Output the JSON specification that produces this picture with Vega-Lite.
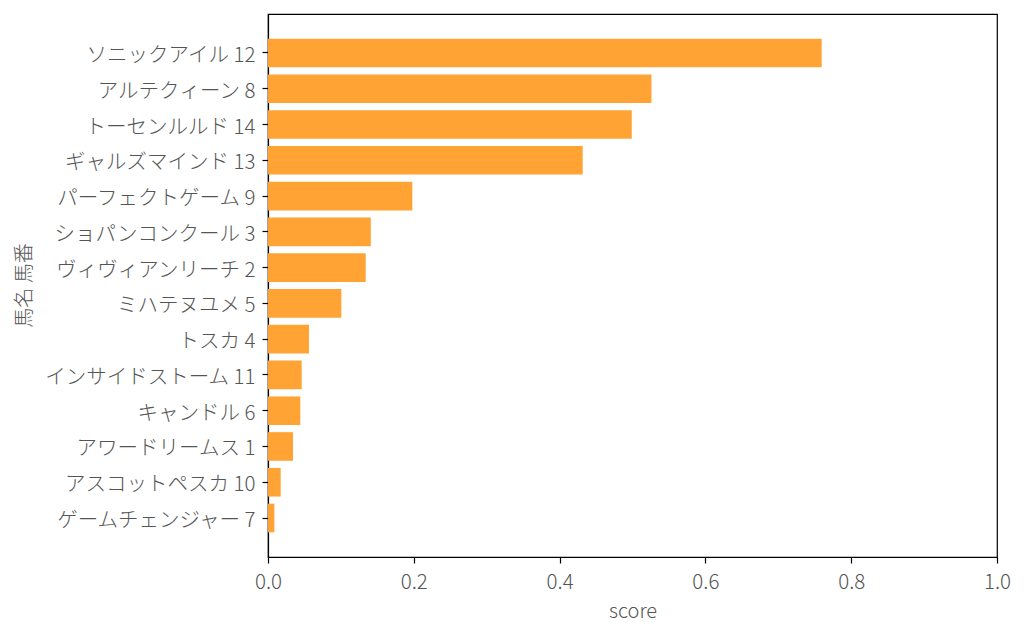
{
  "$schema": "https://vega.github.io/schema/vega-lite/v6.json",
  "width": 729,
  "height": 543,
  "autosize": {"type": "none"},
  "padding": {"left": 268, "top": 14, "right": 27, "bottom": 81},
  "background": "white",
  "config": {
    "font": "Noto Sans CJK JP",
    "view": {"stroke": "black", "strokeWidth": 1.2},
    "axis": {
      "domainColor": "black",
      "domainWidth": 1.2,
      "tickColor": "black",
      "tickWidth": 1.2,
      "tickSize": 6,
      "labelColor": "#555555",
      "titleColor": "#555555",
      "labelFont": "'Noto Sans CJK JP Light', 'Noto Sans CJK JP'",
      "titleFont": "'Noto Sans CJK JP Light', 'Noto Sans CJK JP'",
      "labelFontWeight": 300,
      "titleFontWeight": 300,
      "labelFontSize": 20.5,
      "titleFontSize": 20,
      "labelLimit": 400,
      "grid": false
    }
  },
  "data": {
    "values": [
      {"馬名 馬番": "ソニックアイル 12", "score": 0.7595},
      {"馬名 馬番": "アルテクィーン 8", "score": 0.526},
      {"馬名 馬番": "トーセンルルド 14", "score": 0.499},
      {"馬名 馬番": "ギャルズマインド 13", "score": 0.4317},
      {"馬名 馬番": "パーフェクトゲーム 9", "score": 0.198},
      {"馬名 馬番": "ショパンコンクール 3", "score": 0.141},
      {"馬名 馬番": "ヴィヴィアンリーチ 2", "score": 0.134},
      {"馬名 馬番": "ミハテヌユメ 5", "score": 0.1006},
      {"馬名 馬番": "トスカ 4", "score": 0.0562},
      {"馬名 馬番": "インサイドストーム 11", "score": 0.0462},
      {"馬名 馬番": "キャンドル 6", "score": 0.0443},
      {"馬名 馬番": "アワードリームス 1", "score": 0.0343},
      {"馬名 馬番": "アスコットペスカ 10", "score": 0.0174},
      {"馬名 馬番": "ゲームチェンジャー 7", "score": 0.0087}
    ]
  },
  "mark": {"type": "bar", "color": "#ffa334"},
  "encoding": {
    "y": {
      "field": "馬名 馬番",
      "type": "nominal",
      "sort": null,
      "scale": {"paddingInner": 0.2, "paddingOuter": 0.69},
      "axis": {
        "title": "馬名 馬番",
        "labelPadding": 7,
        "labelOffset": 3,
        "titleAngle": 270,
        "titleX": -244,
        "titleY": 271,
        "titleAlign": "center",
        "titleBaseline": "middle"
      }
    },
    "x": {
      "field": "score",
      "type": "quantitative",
      "scale": {"domain": [0, 1], "nice": false, "zero": true},
      "axis": {
        "title": "score",
        "values": [0, 0.2, 0.4, 0.6, 0.8, 1.0],
        "format": ".1f",
        "labelPadding": 9,
        "labelFlush": false,
        "titleY": 54,
        "titleBaseline": "middle"
      }
    }
  }
}
